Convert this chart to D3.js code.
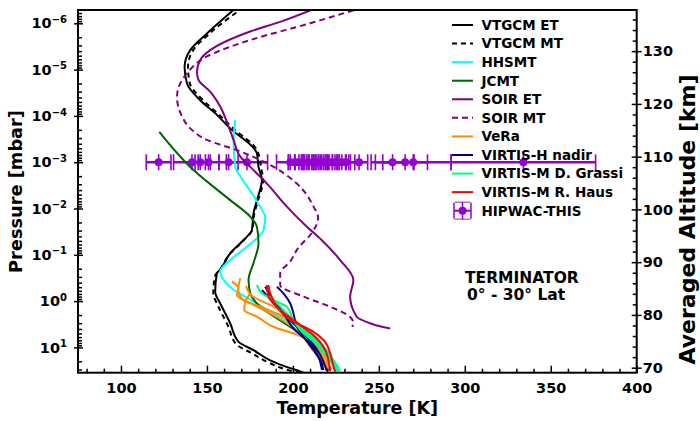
<!DOCTYPE html>
<html>
<head>
<meta charset="utf-8">
<script src="https://cdn.jsdelivr.net/npm/d3@7"></script>
<style>
  body { margin: 0; background: #fff; }
  svg { font-family: "DejaVu Sans", sans-serif; font-weight: bold; }
</style>
</head>
<body>
<div id="chart"></div>
<script>
// profiles: [temperature K, pressure mbar]
const vtgcmET = [[167.3,4.5e-7],[150.0,1.66e-6],[140.3,3.8e-6],[137.0,8.7e-6],[138.4,2.0e-5],[146.1,4.6e-5],[155.8,9.5e-5],[163.5,1.86e-4],[178.1,5.5e-4],[179.1,6.5e-4],[180.0,1.26e-3],[182.0,2.4e-3],[179.1,6.6e-3],[177.1,1.26e-2],[176.2,2.9e-2],[171.3,4.8e-2],[163.5,9.3e-2],[157.7,0.21],[155.8,0.25],[154.8,0.63],[157.7,1.12],[158.7,1.32],[163.5,3.0],[168.4,7.6],[177.1,11.5],[186.8,19],[198.4,28],[204.2,33],[208,38]];
const vtgcmMT = [[171.4,4.5e-7],[151.9,1.62e-6],[142.0,3.8e-6],[139.0,8.7e-6],[140.0,1.95e-5],[147.8,4.6e-5],[157.2,9.5e-5],[165.3,1.86e-4],[179.2,5.5e-4],[180.4,7.4e-4],[181.6,1.35e-3],[182.7,2.4e-3],[179.8,6.6e-3],[177.5,1.32e-2],[176.3,2.9e-2],[171.1,5.0e-2],[162.9,0.1],[157.1,0.22],[154.8,0.28],[153.7,0.68],[156.6,1.29],[162.4,3.5],[167.0,8.5],[176.3,13.5],[185.6,21],[197.3,31],[203.1,35],[207,40]];
const hhsmt = [[166.5,1.23e-4],[165.5,3.3e-4],[166.5,1.26e-3],[169.4,2.0e-3],[176.2,4.7e-3],[182.0,1.07e-2],[183.9,1.5e-2],[182.9,2.9e-2],[173.3,6.7e-2],[163.5,0.13],[157.7,0.23],[159.7,0.35],[165.5,0.57],[173.3,0.85],[188.7,1.8],[202.3,3.5],[215.9,8.1],[223.4,18.7],[226.3,34]];
const jcmt = [[122.3,2.2e-4],[142.2,1.48e-3],[163.5,6.6e-3],[175.2,1.5e-2],[179.1,2.5e-2],[180.0,5.6e-2],[177.1,0.15],[174.2,0.35],[175.2,0.68],[181.0,1.32],[192.6,2.6],[204.2,4.9]];
const soirET = [[214.7,4.5e-7],[192.6,9.3e-7],[175.2,1.5e-6],[151.9,3.8e-6],[146.1,6.2e-6],[144.2,1.12e-5],[145.1,1.66e-5],[151.9,3.0e-5],[157.7,6.3e-5],[162.6,1.7e-4],[165.5,3.3e-4],[169.4,7.6e-4],[175.2,1.26e-3],[184.9,2.9e-3],[196.5,9.1e-3],[207.2,2.3e-2],[217.0,4.9e-2],[227.5,0.13],[235.2,0.35],[233.3,0.80],[237.2,2.2],[244.9,3.0],[250.7,3.5],[256.6,3.9]];
const soirMT = [[240.9,4.5e-7],[210.0,1.0e-6],[175.2,2.3e-6],[150.0,5.2e-6],[138.4,1.2e-5],[132.6,3.9e-5],[135.1,9.5e-5],[140.3,1.86e-4],[150.0,3.3e-4],[167.4,5.5e-4],[184.9,1.05e-3],[202.3,2.9e-3],[212.0,9.1e-3],[214.7,1.6e-2],[211.2,3.3e-2],[203.1,7.1e-2],[198.4,0.14],[192.6,0.25],[192.6,0.45],[206.2,0.80],[221.7,1.32],[233.3,2.2],[235.2,3.0],[234.5,3.6]];
const vera = [
  [[164.5,0.38],[168.4,0.53],[167.4,0.74],[175.2,1.11],[184.9,1.69],[196.5,3.0],[204.2,4.96],[210.1,9.7],[215.9,18.7],[220.7,30.8]],
  [[169.4,0.32],[168.2,0.58],[171.3,0.95],[181.0,1.32],[192.6,2.0],[204.2,3.28],[213.0,6.9],[218.8,16.9],[222.3,30.8]],
  [[175.2,0.68],[172.3,1.05],[171.7,1.56],[179.1,2.17],[190.7,3.87],[201.3,5.1],[210.1,8.0],[217.0,16.9],[221.7,32.4]],
  [[172.8,0.47],[176.3,0.78],[186.8,1.21],[199.6,2.32],[208.9,5.4],[215.9,12.6],[219.9,30.8]]
];
const virtisH = [
  [[190.7,0.49],[194.5,0.68],[198.4,1.11],[200.3,1.83],[202.3,3.57],[206.2,5.9],[212.0,11.4],[215.9,18.7],[217.8,30.8]],
  [[183.9,0.49],[188.7,0.95],[194.5,1.83],[200.3,3.87],[210.1,8.2],[214.9,15.9],[216.9,30.8]],
  [[182.1,0.58],[189.7,1.21],[198.4,2.56],[207.2,5.4],[214.9,12.6],[219.8,32.4]]
];
const virtisMGrassi = [
  [[179.1,0.45],[182.0,0.68],[190.7,1.03],[196.5,1.32],[199.4,2.17],[204.2,4.2],[212.0,7.5],[219.8,15.9],[225.6,30.8]],
  [[192.6,1.56],[199.6,2.56],[208.9,4.96],[217.0,9.7],[223.6,18.7],[227.5,32.4]],
  [[186.8,0.78],[194.5,1.56],[202.3,3.28],[213.0,7.5],[221.7,16.9],[225.6,32.4]]
];
const virtisMHaus = [
  [[185.8,0.45],[186.8,0.68],[190.7,1.32],[198.4,2.56],[210.1,4.2],[217.8,6.9],[221.7,13.4],[223.6,26],[224.6,33.5]],
  [[184.9,0.45],[185.8,0.78],[192.6,1.56],[204.2,3.28],[213.0,5.9],[218.8,11.4],[221.7,32.4]]
];
// HIPWAC-THIS retrievals at 1e-3 mbar
const hipwacP = 1e-3;
const hipwacT = [121.9,141.3,146.1,150.9,162.6,173.3,198.5,201.3,203.5,206.0,208.9,211.8,214.0,215.9,218.0,221.0,223.0,225.6,228.5,231.0,238.5,258.0,270.0,265.3,334.1];
const hipwacErr = [7.2,10.7,3.0,6.0,5.5,12.0,8.0,4.0,6.0,5.0,4.0,5.0,6.0,4.0,5.0,6.0,4.0,5.0,4.0,5.0,5.0,12.5,22.0,13.0,42.0];

const legendNames = ['VTGCM ET','VTGCM MT','HHSMT','JCMT','SOIR ET','SOIR MT','VeRa','VIRTIS-H nadir','VIRTIS-M D. Grassi','VIRTIS-M R. Haus','HIPWAC-THIS'];
const legendColors = ['#000000','#000000','#00ffff','#006400','#800080','#800080','#ff8c00','#000080','#00ff7f','#ff0000','#9400d3'];
const legendDash = [null,'5,4',null,null,null,'6,4',null,null,null,null,null];

const xTicks = [100,150,200,250,300,350,400];
const pTicks = [1e-6,1e-5,1e-4,1e-3,1e-2,1e-1,1,10];
const altTicks = [70,80,90,100,110,120,130];

class ProfilePlot {
    constructor(_config) {
        this.config = {
            parentElement: _config.parentElement,
            containerWidth: _config.containerWidth || 700,
            containerHeight: _config.containerHeight || 421,
            margin: _config.margin || {top: 10, right: 63.3, bottom: 48.3, left: 78}
        };
        this.initVis();
    }

    initVis() {
        let vis = this;

        vis.svg = d3.select(vis.config.parentElement)
            .append('svg')
                .attr('width', vis.config.containerWidth)
                .attr('height', vis.config.containerHeight);

        vis.width = vis.config.containerWidth - vis.config.margin.left - vis.config.margin.right;
        vis.height = vis.config.containerHeight - vis.config.margin.top - vis.config.margin.bottom;

        vis.xScale = d3.scaleLinear().domain([75, 400]).range([0, vis.width]);
        vis.yScale = d3.scaleLog().domain([5.16e-7, 35.2]).range([0, vis.height]);
        vis.altScale = d3.scaleLinear().domain([69.05, 137.8]).range([vis.height, 0]);

        vis.chart = vis.svg.append('g')
            .attr('transform', `translate(${vis.config.margin.left},${vis.config.margin.top})`);

        vis.svg.append('defs').append('clipPath').attr('id', 'plot-clip')
            .append('rect').attr('width', vis.width).attr('height', vis.height);

        vis.plotG = vis.chart.append('g').attr('clip-path', 'url(#plot-clip)');

        vis.line = d3.line()
            .x(d => vis.xScale(d[0]))
            .y(d => vis.yScale(d[1]))
            .curve(d3.curveMonotoneY);
    }

    renderVis() {
        let vis = this;

        // HIPWAC error bars go underneath the profiles
        const hip = hipwacT.map((t, i) => ({t: t, e: hipwacErr[i]}));
        const yh = vis.yScale(hipwacP);
        const hipG = vis.plotG.append('g').attr('stroke', '#9400d3').attr('fill', '#9400d3');
        hipG.selectAll('.xerr').data(hip).join('line')
            .attr('class', 'xerr')
            .attr('x1', d => vis.xScale(d.t - d.e)).attr('x2', d => vis.xScale(d.t + d.e))
            .attr('y1', yh).attr('y2', yh).attr('stroke-width', 2.5);
        hipG.selectAll('.capl').data(hip).join('line')
            .attr('class', 'capl')
            .attr('x1', d => vis.xScale(d.t - d.e)).attr('x2', d => vis.xScale(d.t - d.e))
            .attr('y1', yh - 8).attr('y2', yh + 8).attr('stroke-width', 1.6);
        hipG.selectAll('.capr').data(hip).join('line')
            .attr('class', 'capr')
            .attr('x1', d => vis.xScale(d.t + d.e)).attr('x2', d => vis.xScale(d.t + d.e))
            .attr('y1', yh - 8).attr('y2', yh + 8).attr('stroke-width', 1.6);
        hipG.selectAll('.yerr').data(hip).join('line')
            .attr('class', 'yerr')
            .attr('x1', d => vis.xScale(d.t)).attr('x2', d => vis.xScale(d.t))
            .attr('y1', yh - 8).attr('y2', yh + 8).attr('stroke-width', 1.6);
        hipG.selectAll('circle').data(hip).join('circle')
            .attr('cx', d => vis.xScale(d.t)).attr('cy', yh).attr('r', 4).attr('stroke', 'none');

        const series = [
            {data: [vtgcmET], color: '#000000', dash: null},
            {data: [vtgcmMT], color: '#000000', dash: '5,4'},
            {data: [hhsmt], color: '#00ffff', dash: null},
            {data: [jcmt], color: '#006400', dash: null},
            {data: [soirET], color: '#800080', dash: null},
            {data: [soirMT], color: '#800080', dash: '6,4'},
            {data: vera, color: '#ff8c00', dash: null},
            {data: virtisH, color: '#000080', dash: null},
            {data: virtisMGrassi, color: '#00ff7f', dash: null},
            {data: virtisMHaus, color: '#ff0000', dash: null}
        ];
        series.forEach(s => {
            vis.plotG.append('g').selectAll('path').data(s.data).join('path')
                .attr('d', vis.line)
                .attr('fill', 'none')
                .attr('stroke', s.color)
                .attr('stroke-width', 2)
                .attr('stroke-dasharray', s.dash);
        });

        // axes
        const bottomMinor = d3.range(80, 400, 10).filter(v => v % 50 !== 0);
        vis.chart.append('g').attr('transform', `translate(0,${vis.height})`)
            .call(d3.axisBottom(vis.xScale).tickValues(bottomMinor).tickSizeInner(-4).tickSizeOuter(0).tickFormat(''))
            .call(g => g.select('.domain').remove());
        vis.xAxisG = vis.chart.append('g').attr('transform', `translate(0,${vis.height})`)
            .call(d3.axisBottom(vis.xScale).tickValues(xTicks).tickSizeInner(-7).tickSizeOuter(0).tickPadding(10))
            .call(g => g.select('.domain').remove());

        const pMinor = [];
        for (let e = -7; e <= 1; e++) {
            for (let m = 2; m <= 9; m++) {
                const v = m * Math.pow(10, e);
                if (v >= 5.16e-7 && v <= 35.2) pMinor.push(v);
            }
        }
        vis.chart.append('g')
            .call(d3.axisLeft(vis.yScale).tickValues(pMinor).tickSizeInner(-4).tickSizeOuter(0).tickFormat(''))
            .call(g => g.select('.domain').remove());
        vis.yAxisG = vis.chart.append('g')
            .call(d3.axisLeft(vis.yScale).tickValues(pTicks).tickSizeInner(-5).tickSizeOuter(0).tickPadding(11))
            .call(g => g.select('.domain').remove());
        vis.yAxisG.selectAll('.tick line').attr('x1', -4).attr('x2', 5);
        vis.yAxisG.selectAll('.tick text')
            .text(null)
            .each(function(d) {
                const t = d3.select(this);
                const e = Math.round(Math.log10(d));
                t.append('tspan').text('10');
                t.append('tspan').attr('dy', '-0.55em').style('font-size', '10px')
                    .text(e < 0 ? '\u2212' + (-e) : e);
            });

        vis.chart.append('g').attr('transform', `translate(${vis.width},0)`)
            .call(d3.axisRight(vis.altScale).tickValues(d3.range(70, 138, 2).filter(v => v % 10 !== 0))
                .tickSizeInner(-4).tickSizeOuter(0).tickFormat(''))
            .call(g => g.select('.domain').remove());
        vis.altAxisG = vis.chart.append('g').attr('transform', `translate(${vis.width},0)`)
            .call(d3.axisRight(vis.altScale).tickValues(altTicks).tickSizeInner(-5).tickSizeOuter(0).tickPadding(6))
            .call(g => g.select('.domain').remove());
        vis.altAxisG.selectAll('.tick line').attr('x1', -5).attr('x2', 5);

        vis.chart.selectAll('.tick line').attr('stroke', '#000').attr('stroke-width', 1.5);
        vis.chart.selectAll('.tick text')
            .attr('fill', '#000')
            .style('font-family', '"DejaVu Sans", sans-serif')
            .style('font-weight', 'bold')
            .style('font-size', '14.5px');

        vis.chart.append('rect')
            .attr('width', vis.width).attr('height', vis.height)
            .attr('fill', 'none').attr('stroke', '#000').attr('stroke-width', 2);

        // axis titles
        vis.svg.append('text')
            .attr('x', vis.config.margin.left + vis.width / 2).attr('y', 414)
            .attr('text-anchor', 'middle').style('font-size', '17.5px')
            .text('Temperature [K]');
        vis.svg.append('text')
            .attr('transform', `translate(22,191.5) rotate(-90)`)
            .attr('text-anchor', 'middle').style('font-size', '17.8px')
            .text('Pressure [mbar]');
        vis.svg.append('text')
            .attr('transform', `translate(695,219.5) rotate(-90)`)
            .attr('text-anchor', 'middle').style('font-size', '22px')
            .text('Averaged Altitude [km]');

        vis.svg.append('text').attr('x', 465).attr('y', 283).style('font-size', '15.5px').text('TERMINATOR');
        vis.svg.append('text').attr('x', 467).attr('y', 300).style('font-size', '15.5px').text('0\u00b0 - 30\u00b0 Lat');

        // legend
        const lg = vis.svg.append('g').attr('class', 'legend');
        const rows = lg.selectAll('g').data(legendNames).join('g')
            .attr('transform', (d, i) => `translate(0,${25 + i * 18.57})`);
        rows.filter((d, i) => i < 10).append('line')
            .attr('x1', 452).attr('x2', 473).attr('y1', 0).attr('y2', 0)
            .attr('stroke', (d, i) => legendColors[i])
            .attr('stroke-width', 2)
            .attr('stroke-dasharray', (d, i) => legendDash[i]);
        const mk = rows.filter((d, i) => i === 10).append('g')
            .attr('stroke', legendColors[10]).attr('fill', legendColors[10]).attr('stroke-width', 1.5);
        mk.append('line').attr('x1', 454).attr('x2', 471).attr('y1', 0).attr('y2', 0).attr('stroke-width', 2);
        mk.append('line').attr('x1', 462.5).attr('x2', 462.5).attr('y1', -8.5).attr('y2', 8.5);
        [454, 471].forEach(x => mk.append('line').attr('x1', x).attr('x2', x).attr('y1', -8).attr('y2', 8));
        [-8.5, 8.5].forEach(y => mk.append('line').attr('x1', 454.5).attr('x2', 470.5).attr('y1', y).attr('y2', y).attr('opacity', 0.6));
        mk.append('circle').attr('cx', 462.5).attr('cy', 0).attr('r', 4).attr('stroke', 'none');
        rows.append('text')
            .attr('x', 481.5).attr('y', 0).attr('dy', '0.36em')
            .style('font-size', '13.5px')
            .text(d => d);
    }
}

const plot = new ProfilePlot({parentElement: '#chart'});
plot.renderVis();
</script>
</body>
</html>
